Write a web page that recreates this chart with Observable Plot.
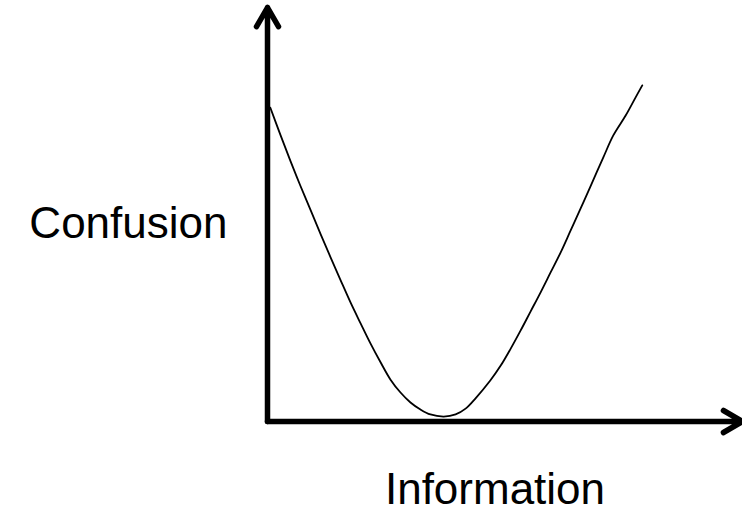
<!DOCTYPE html>
<html>
<head>
<meta charset="utf-8">
<script src="https://cdn.jsdelivr.net/npm/d3@7"></script>
<script src="https://cdn.jsdelivr.net/npm/@observablehq/plot@0.6"></script>
<style>
  html, body { margin: 0; padding: 0; background: #fff; }
  #chart svg { display: block; }
</style>
</head>
<body>
<div id="chart"></div>
<script>
// Information (x) and Confusion (y) values, axes 0..10
const information = [0.06, 0.27, 0.48, 0.69, 0.91, 1.12, 1.33, 1.54, 1.75, 1.96, 2.17, 2.38, 2.59, 2.80, 3.01, 3.22, 3.43, 3.71, 3.96, 4.17, 4.38, 4.69, 4.91, 5.12, 5.33, 5.54, 5.75, 5.96, 6.17, 6.38, 6.59, 6.80, 7.07, 7.28, 7.54, 7.75, 7.89];
const confusion   = [7.58, 6.93, 6.30, 5.70, 5.10, 4.52, 3.96, 3.41, 2.87, 2.37, 1.88, 1.43, 1.01, 0.70, 0.46, 0.29, 0.17, 0.12, 0.17, 0.31, 0.56, 0.99, 1.35, 1.76, 2.20, 2.66, 3.12, 3.60, 4.08, 4.61, 5.14, 5.68, 6.38, 6.91, 7.39, 7.83, 8.12];
const axisMax = {x: 10, y: 10};
const labels = {x: "Information", y: "Confusion"};

const curve = information.map((v, i) => ({x: v, y: confusion[i]}));
const axes = [
  {x1: 0, y1: 0, x2: 0, y2: axisMax.y},
  {x1: 0, y1: 0, x2: axisMax.x, y2: 0}
];

const chart = Plot.plot({
  width: 742,
  height: 518,
  marginLeft: 267,
  marginRight: 0,
  marginTop: 7,
  marginBottom: 97,
  x: {domain: [0, axisMax.x], axis: null},
  y: {domain: [0, axisMax.y], axis: null},
  style: {fontFamily: "'Liberation Sans', Arial, sans-serif", background: "#fff"},
  marks: [
    Plot.line(curve, {x: "x", y: "y", curve: "catmull-rom", stroke: "#000", strokeWidth: 1.8}),
    Plot.arrow(axes, {
      x1: "x1", y1: "y1", x2: "x2", y2: "y2",
      stroke: "#000", strokeWidth: 5.5, headLength: 6, headAngle: 60,
      strokeLinecap: "round", strokeLinejoin: "round"
    }),
    Plot.text([labels.y], {
      text: d => d, frameAnchor: "left", textAnchor: "end", lineAnchor: "middle",
      dx: -40, dy: 9, fontSize: 44, fill: "#000"
    }),
    Plot.text([labels.x], {
      text: d => d, frameAnchor: "bottom", textAnchor: "middle", lineAnchor: "middle",
      dx: -10, dy: 68, fontSize: 44, fill: "#000"
    })
  ]
});
document.getElementById("chart").appendChild(chart);
</script>
</body>
</html>
